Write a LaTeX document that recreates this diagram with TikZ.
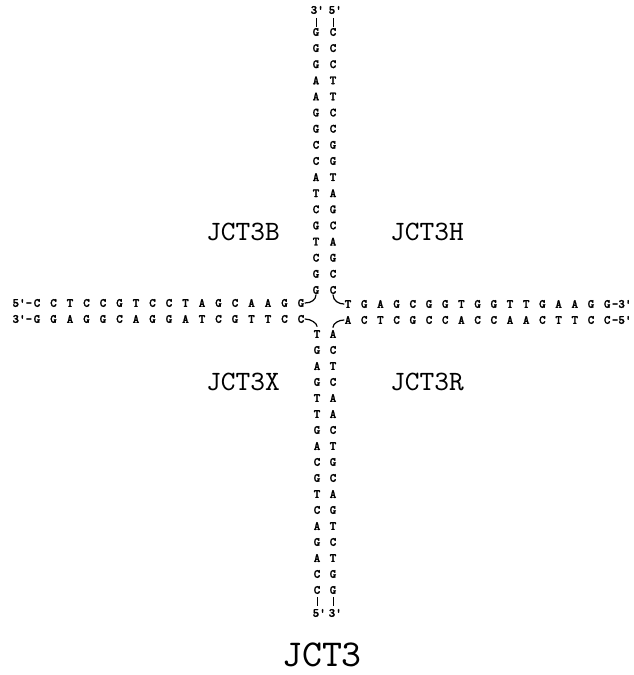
\documentclass[tikz,border=0pt]{standalone}
\usepackage{fontspec}
\newfontfamily\seqfont[FakeBold=1.6]{lmmonolt10-bold.otf}
\newfontfamily\lblfont{lmmono10-regular.otf}
\begin{document}
\begin{tikzpicture}[x=1pt,y=-1pt,
  base/.style={inner sep=0.6pt, font=\seqfont\fontsize{12.5}{13}\selectfont},
  lbl/.style={inner sep=0pt, font=\lblfont\fontsize{28}{30}\selectfont},
  ttl/.style={inner sep=0pt, font=\lblfont\fontsize{38}{40}\selectfont},
  bond/.style={line width=0.9pt},
  hook/.style={line width=1.2pt, line cap=round}]
\useasboundingbox (0,0) rectangle (634,675);
% top arm
\foreach \a/\b [count=\i] in {G/C,G/C,G/C,A/T,A/T,G/C,G/C,C/G,C/G,A/T,T/A,C/G,G/C,T/A,C/G,G/C,G/C}{
  \node[base] (tl\i) at (316, {32+16.125*(\i-1)}) {\a};
  \node[base] (tr\i) at (333, {32+16.125*(\i-1)}) {\b};
}
% bottom arm
\foreach \a/\b [count=\i] in {T/A,G/C,A/T,G/C,T/A,T/A,G/C,A/T,C/G,G/C,T/A,C/G,A/T,G/C,A/T,C/G,C/G}{
  \node[base] (bl\i) at (317, {334+16*(\i-1)}) {\a};
  \node[base] (br\i) at (333, {334+16*(\i-1)}) {\b};
}
% left arm
\foreach \a/\b [count=\i] in {C/G,C/G,T/A,C/G,C/G,G/C,T/A,C/G,C/G,T/A,A/T,G/C,C/G,A/T,A/T,G/C,G/C}{
  \node[base] (lt\i) at ({37+16.5*(\i-1)}, 303) {\a};
  \node[base] (lb\i) at ({37+16.5*(\i-1)}, 319) {\b};
}
% right arm
\foreach \a/\b [count=\i] in {T/A,G/C,A/T,G/C,C/G,G/C,G/C,T/A,G/C,G/C,T/A,T/A,G/C,A/T,A/T,G/C,G/C}{
  \node[base] (rt\i) at ({348+16.2*(\i-1)}, 304) {\a};
  \node[base] (rb\i) at ({348+16.2*(\i-1)}, 320) {\b};
}
% strand ends
\node[base, anchor=east] (e5l) at (33,303) {5'-};
\node[base, anchor=east] (e3l) at (33,319) {3'-};
\node[base, anchor=west] (e3r) at (611,304) {-3'};
\node[base, anchor=west] (e5r) at (611,320) {-5'};
\node[base] (e3t) at (314,10) {3\rlap{'}};
\node[base] (e5t) at (332,10) {5\rlap{'}};
\node[base] (e5b) at (316,613) {5\rlap{'}};
\node[base] (e3b) at (332,613) {3\rlap{'}};
\draw[bond, shorten <=3pt] (e3t.south -| tl1) -- (tl1.north);
\draw[bond, shorten <=3pt] (e5t.south -| tr1) -- (tr1.north);
\draw[bond, shorten >=2pt, shorten <=2pt] (bl17.south) -- (e5b.north -| bl17);
\draw[bond, shorten >=2pt, shorten <=2pt] (br17.south) -- (e3b.north -| br17);
% junction hooks
\draw[hook] (lt17.east) .. controls +(6,0) and +(0,5) .. (tl17.south);
\draw[hook] (tr17.south) .. controls +(0,6) and +(-5,0) .. (rt1.west);
\draw[hook, shorten >=3pt] (lb17.east) .. controls +(6,0) and +(0,-6) .. (bl1.north);
\draw[hook, shorten <=2pt] (br1.north) .. controls +(0,-6) and +(-5,0) .. (rb1.west);
% labels
\node[lbl] (jb) at (243,232) {JCT3B};
\node[lbl] (jh) at (427,232) {JCT3H};
\node[lbl] (jx) at (243,382) {JCT3X};
\node[lbl] (jr) at (427,382) {JCT3R};
\node[ttl] (jt) at (322,655) {JCT3};
\end{tikzpicture}
\end{document}
